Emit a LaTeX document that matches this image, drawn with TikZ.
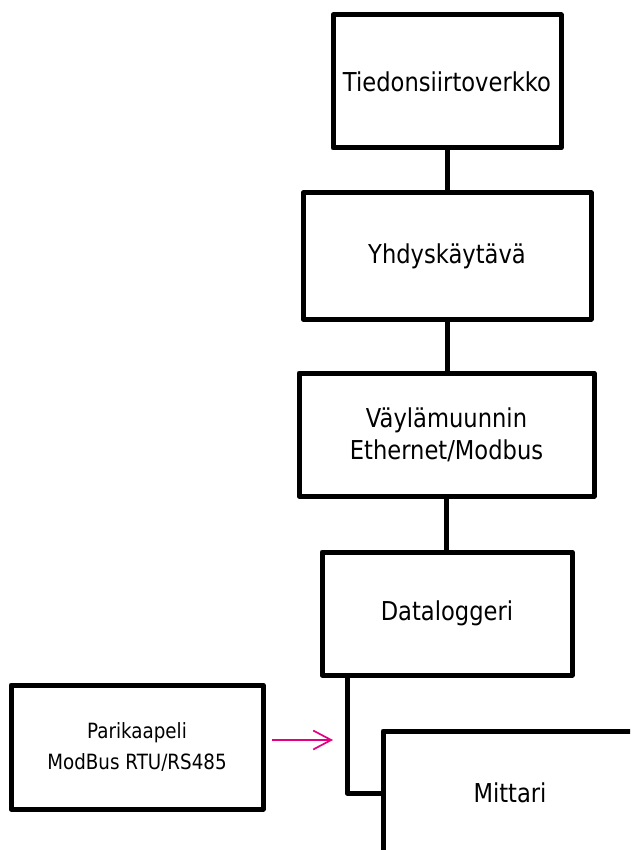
\documentclass[tikz,border=0pt]{standalone}
\usepackage{fontspec}
\setmainfont{DejaVu Sans}[FakeStretch=0.87]
\usetikzlibrary{arrows.meta}
\definecolor{linkpink}{RGB}{228,0,130}
\begin{document}
\begin{tikzpicture}[x=1pt,y=-1pt,
  box/.style={draw, line width=5pt, line join=round, inner sep=0pt,
    font=\fontsize{26}{32}\selectfont, align=center},
  smallbox/.style={box, font=\fontsize{21}{31}\selectfont},
  wire/.style={line width=5pt, line join=round},
  pinkarrow/.style={draw=linkpink, line width=1.7pt, -{Straight Barb[length=18pt,width=19pt,line width=1.7pt]}}]
\useasboundingbox (0,0) rectangle (630,850);
\fill[white] (0,0) rectangle (630,850);
\clip (0,0) rectangle (630,850);
\node[box, minimum width=228pt, minimum height=133pt] (t1) at (447,81.5) {Tiedonsiirtoverkko};
\node[box, minimum width=288pt, minimum height=126pt] (t2) at (447,256) {Yhdyskäytävä};
\node[box, minimum width=295pt, minimum height=123pt] (t3) at (446.5,434.5) {Väylämuunnin\\Ethernet/Modbus};
\node[box, minimum width=250pt, minimum height=123pt] (t4) at (447,613.5) {Dataloggeri};
\node[box, minimum width=254pt, minimum height=124pt] (mit) at (510,793) {Mittari};
\node[smallbox, minimum width=252pt, minimum height=124pt] (pk) at (137,747) {Parikaapeli\\ModBus RTU/RS485};
\draw[wire] (t1.south) -- (t2.north);
\draw[wire] (t2.south) -- (t2.south |- t3.north);
\draw[wire] (t3.south) -- (t3.south |- t4.north);
\coordinate (dlx) at (347,0);
\draw[wire] (t4.south -| dlx) |- (mit.west);
\coordinate (a0) at (272,740);
\coordinate (a1) at (333,740);
\draw[pinkarrow] (a0) -- (a1);
\end{tikzpicture}
\end{document}
